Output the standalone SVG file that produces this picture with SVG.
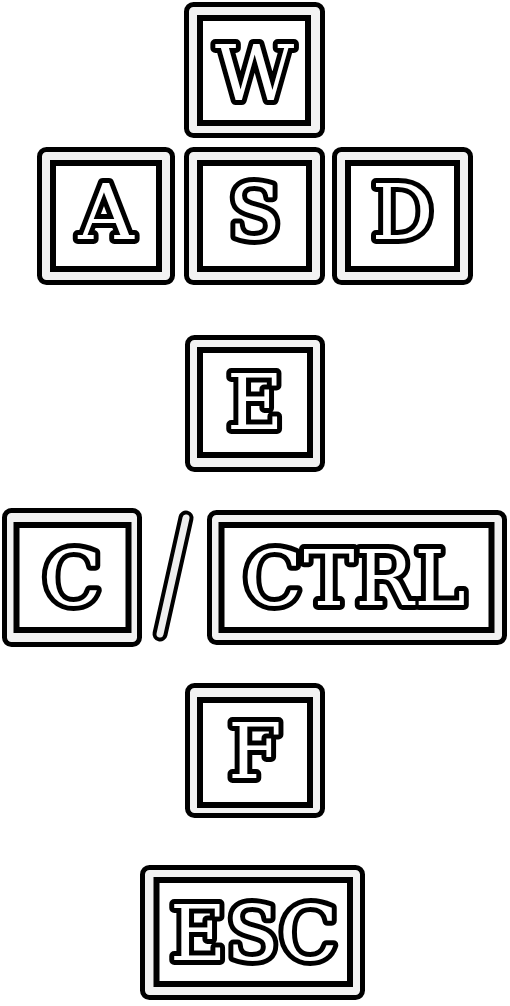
<svg xmlns="http://www.w3.org/2000/svg" width="510" height="1006" viewBox="0 0 510 1006">
<style>
.outer{fill:#f2f2f2;stroke:#000;stroke-width:5}
.inner{fill:#fff;stroke:#000;stroke-width:6}
.lbl{font-family:"DejaVu Serif","Liberation Serif",serif;font-weight:normal;font-size:77px;fill:#fff;stroke:#000;stroke-width:10;stroke-linejoin:round;paint-order:stroke;text-anchor:middle}
</style>
<rect width="510" height="1006" fill="#fff"/>
<g id="key-w">
<rect class="outer" x="186.5" y="4.5" width="136" height="131" rx="7"/>
<rect class="inner" x="200" y="18" width="108" height="105"/>
<text class="lbl" x="254.5" y="100">W</text>
</g>
<g id="key-a">
<rect class="outer" x="39.5" y="149.5" width="133" height="133" rx="7"/>
<rect class="inner" x="53" y="163" width="106" height="106"/>
<text class="lbl" x="106" y="239">A</text>
</g>
<g id="key-s">
<rect class="outer" x="186.5" y="149.5" width="136" height="133" rx="7"/>
<rect class="inner" x="200" y="163" width="109" height="106"/>
<text class="lbl" x="254.5" y="239">S</text>
</g>
<g id="key-d">
<rect class="outer" x="334.5" y="149.5" width="136" height="133" rx="7"/>
<rect class="inner" x="348" y="163" width="109" height="106"/>
<text class="lbl" x="402.5" y="239">D</text>
</g>
<g id="key-e">
<rect class="outer" x="187.5" y="337.5" width="135" height="132" rx="7"/>
<rect class="inner" x="200" y="350" width="110" height="105"/>
<text class="lbl" x="255" y="429">E</text>
</g>
<g id="key-c">
<rect class="outer" x="4.5" y="510.5" width="135" height="134" rx="7"/>
<rect class="inner" x="16.5" y="525" width="112" height="105"/>
<text class="lbl" x="72" y="605">C</text>
</g>
<g id="connectors">
<line x1="186" y1="518" x2="160" y2="634" stroke="#000" stroke-width="15" stroke-linecap="round"/>
<line x1="186" y1="518" x2="160" y2="634" stroke="#eeeeee" stroke-width="7" stroke-linecap="round"/>
</g>
<g id="key-ctrl">
<rect class="outer" x="209.5" y="512.5" width="295" height="130" rx="7"/>
<rect class="inner" x="221.5" y="525" width="270" height="105"/>
<text class="lbl" x="355" y="605" letter-spacing="1">CTRL</text>
</g>
<g id="key-f">
<rect class="outer" x="187.5" y="685.5" width="135" height="130" rx="7"/>
<rect class="inner" x="200" y="700" width="110" height="105"/>
<text class="lbl" x="255" y="778">F</text>
</g>
<g id="key-esc">
<rect class="outer" x="142.5" y="867.5" width="220" height="130" rx="7"/>
<rect class="inner" x="156.5" y="880" width="193.5" height="104"/>
<text class="lbl" x="254" y="960">ESC</text>
</g>
</svg>
